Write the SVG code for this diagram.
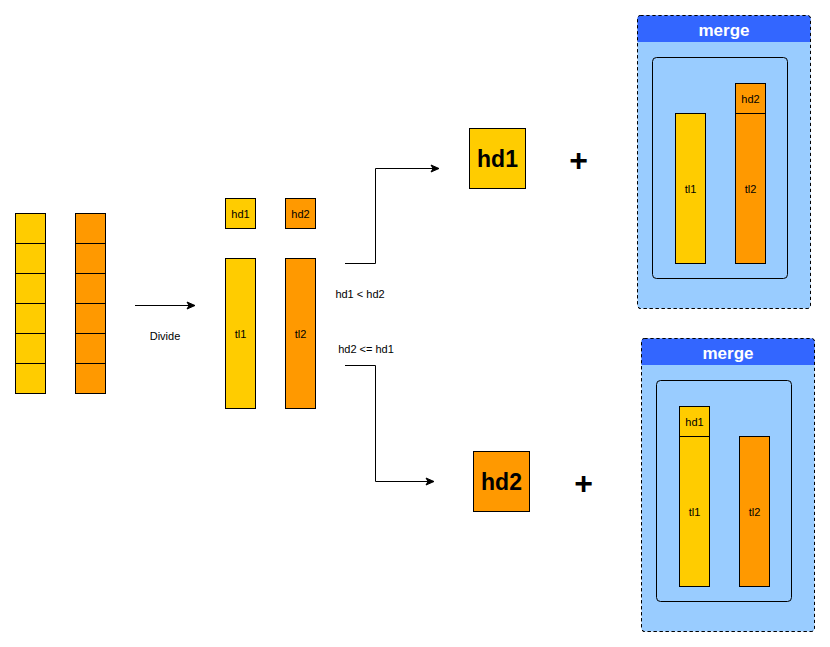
<svg xmlns="http://www.w3.org/2000/svg" width="830" height="647" viewBox="0 0 830 647">
<style>
.y{fill:#FFCC00;stroke:#000;stroke-width:1}
.o{fill:#FF9900;stroke:#000;stroke-width:1}
.t{font-family:"Liberation Sans",Arial,sans-serif;font-size:11px;fill:#000;text-anchor:middle}
.big{font-family:"Liberation Sans",Arial,sans-serif;font-size:23px;font-weight:bold;fill:#000;text-anchor:middle}
.plus{font-family:"Liberation Sans",Arial,sans-serif;font-size:32px;font-weight:bold;fill:#000;text-anchor:middle}
.body{fill:#99CCFF;stroke:#000;stroke-width:1;stroke-dasharray:3 3}
.head{fill:#3366FF}
.title{font-family:"Liberation Sans",Arial,sans-serif;font-size:17px;font-weight:bold;fill:#fff;text-anchor:middle}
.inner{fill:none;stroke:#000;stroke-width:1}
.c{fill:none;stroke:#000;stroke-width:1}
</style>
<defs>
<marker id="arr" markerWidth="10" markerHeight="10" refX="9" refY="5" orient="auto" markerUnits="userSpaceOnUse">
<path d="M1,1.5 L9,5 L1,8.5 L3,5 Z" fill="#000" stroke="#000" stroke-width="1"/>
</marker>
</defs>

<g id="list1">
<rect class="y" x="15.5" y="213.5" width="30" height="30"/>
<rect class="y" x="15.5" y="243.5" width="30" height="30"/>
<rect class="y" x="15.5" y="273.5" width="30" height="30"/>
<rect class="y" x="15.5" y="303.5" width="30" height="30"/>
<rect class="y" x="15.5" y="333.5" width="30" height="30"/>
<rect class="y" x="15.5" y="363.5" width="30" height="30"/>
</g>
<g id="list2">
<rect class="o" x="75.5" y="213.5" width="30" height="30"/>
<rect class="o" x="75.5" y="243.5" width="30" height="30"/>
<rect class="o" x="75.5" y="273.5" width="30" height="30"/>
<rect class="o" x="75.5" y="303.5" width="30" height="30"/>
<rect class="o" x="75.5" y="333.5" width="30" height="30"/>
<rect class="o" x="75.5" y="363.5" width="30" height="30"/>
</g>

<g id="connectors">
<line class="c" x1="135" y1="305.5" x2="195" y2="305.5" marker-end="url(#arr)"/>
<polyline class="c" points="345,263.5 375.5,263.5 375.5,168.5 439,168.5" marker-end="url(#arr)"/>
<polyline class="c" points="345,365.5 375.5,365.5 375.5,481.5 434,481.5" marker-end="url(#arr)"/>
</g>

<g id="labels">
<text class="t" x="165" y="340">Divide</text>
<text class="t" x="360" y="298">hd1 &lt; hd2</text>
<text class="t" x="366" y="353">hd2 &lt;= hd1</text>
</g>

<g id="hd1-small"><rect class="y" x="225.5" y="198.5" width="30" height="30"/><text class="t" x="240.5" y="217.5">hd1</text></g>
<g id="hd2-small"><rect class="o" x="285.5" y="198.5" width="30" height="30"/><text class="t" x="300.5" y="217.5">hd2</text></g>
<g id="tl1"><rect class="y" x="225.5" y="258.5" width="30" height="150"/><text class="t" x="240.5" y="337.5">tl1</text></g>
<g id="tl2"><rect class="o" x="285.5" y="258.5" width="30" height="150"/><text class="t" x="300.5" y="337.5">tl2</text></g>

<g id="hd1-big"><rect class="y" x="469.5" y="128.5" width="56" height="60"/><text class="big" x="497.5" y="166.5">hd1</text></g>
<g id="plus1"><text class="plus" x="578.5" y="171">+</text></g>
<g id="hd2-big"><rect class="o" x="473.5" y="451.5" width="56" height="60"/><text class="big" x="501.5" y="489.5">hd2</text></g>
<g id="plus2"><text class="plus" x="583.5" y="494">+</text></g>

<g id="merge1">
<rect class="body" x="637.5" y="15.5" width="173" height="293" rx="3"/>
<path class="head" d="M637.5,42 V18.5 Q637.5,15.5 640.5,15.5 H807.5 Q810.5,15.5 810.5,18.5 V42 Z"/>
<rect x="637.5" y="15.5" width="173" height="293" rx="3" fill="none" stroke="#000" stroke-dasharray="3 3"/>
<text class="title" x="724" y="35.5">merge</text>
<rect class="inner" x="652.5" y="57.5" width="135" height="221" rx="4"/>
<rect class="y" x="675.5" y="113.5" width="30" height="150"/><text class="t" x="690.5" y="192.5">tl1</text>
<rect class="o" x="735.5" y="83.5" width="30" height="30"/><text class="t" x="750.5" y="102.5">hd2</text>
<rect class="o" x="735.5" y="113.5" width="30" height="150"/><text class="t" x="750.5" y="192.5">tl2</text>
</g>

<g id="merge2">
<rect class="body" x="641.5" y="338.5" width="173" height="293" rx="3"/>
<path class="head" d="M641.5,365 V341.5 Q641.5,338.5 644.5,338.5 H811.5 Q814.5,338.5 814.5,341.5 V365 Z"/>
<rect x="641.5" y="338.5" width="173" height="293" rx="3" fill="none" stroke="#000" stroke-dasharray="3 3"/>
<text class="title" x="728" y="358.5">merge</text>
<rect class="inner" x="656.5" y="380.5" width="135" height="221" rx="4"/>
<rect class="y" x="679.5" y="406.5" width="30" height="30"/><text class="t" x="694.5" y="425.5">hd1</text>
<rect class="y" x="679.5" y="436.5" width="30" height="150"/><text class="t" x="694.5" y="515.5">tl1</text>
<rect class="o" x="739.5" y="436.5" width="30" height="150"/><text class="t" x="754.5" y="515.5">tl2</text>
</g>
</svg>
